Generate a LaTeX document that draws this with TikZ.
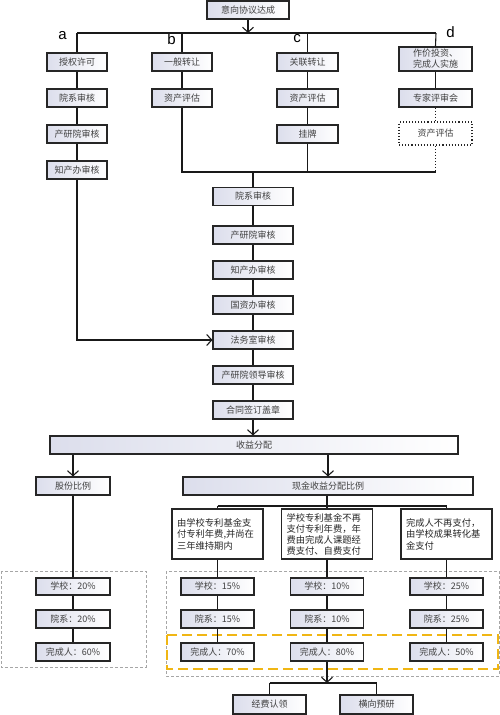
\documentclass[tikz,border=0pt]{standalone}
\usepackage{fontspec}
\setmainfont{Noto Sans CJK SC}
\newfontfamily\latinf{Liberation Sans}
\usetikzlibrary{arrows.meta,calc}
\definecolor{boxL}{RGB}{220,222,236}
\definecolor{ydash}{RGB}{240,182,20}
\tikzset{
  box/.style={draw=black!85, line width=1.1pt, left color=boxL, right color=white,
    minimum height=18pt, inner sep=1pt, font=\fontsize{9}{11}\selectfont, text=black!75},
  tbox/.style={draw=black!85, line width=1.1pt, fill=white, align=left,
    inner xsep=5pt, inner ysep=2pt, minimum height=50pt, text width=81pt,
    font=\fontsize{9.3}{11.5}\selectfont, text=black!85},
  ln/.style={draw=black!90, line width=1.1pt},
  arr/.style={ln, -{Straight Barb[length=5pt,width=11pt,line width=1.1pt]}},
  lbl/.style={font=\latinf\fontsize{15}{15}\selectfont, inner sep=0pt},
}
\begin{document}
\begin{tikzpicture}[x=1pt,y=-1pt]
\useasboundingbox (0,0) rectangle (500,715);
\fill[white] (0,0) rectangle (500,715);
% dashed groups
\draw[gray!70, line width=0.7pt, dash pattern=on 3pt off 2pt] (1,571) rectangle (146,667);
\draw[gray!70, line width=0.7pt, dash pattern=on 3pt off 2pt] (166,571) rectangle (499,676);
\draw[ydash, line width=1.6pt, dash pattern=on 10pt off 5pt] (167,635) rectangle (498,669);

% top
\node[box, minimum width=82pt] (top) at (248,10) {意向协议达成};
\coordinate (ja) at (77,33);
\coordinate (jd) at (436,33);
\node[lbl] (la) at (62.5,35.5) {a};
\node[lbl] (lb) at (171.5,39) {b};
\node[lbl] (lc) at (297,38.5) {c};
\node[lbl] (ld) at (450.5,32.5) {d};

% column a
\node[box, minimum width=60pt] (a1) at (77,62) {授权许可};
\node[box, minimum width=60pt] (a2) at (77,98) {院系审核};
\node[box, minimum width=60pt] (a3) at (77,134) {产研院审核};
\node[box, minimum width=60pt] (a4) at (77,170) {知产办审核};
% column b
\node[box, minimum width=60pt] (b1) at (182,62) {一般转让};
\node[box, minimum width=60pt] (b2) at (182,98) {资产评估};
% column c
\node[box, minimum width=61pt] (c1) at (307.5,62) {关联转让};
\node[box, minimum width=61pt] (c2) at (307.5,98) {资产评估};
\node[box, minimum width=61pt] (c3) at (307.5,134) {挂牌};
% column d
\node[box, minimum width=73pt, minimum height=24pt, align=center] (d1) at (435.5,59) {作价投资、\\完成人实施};
\node[box, minimum width=73pt] (d2) at (435.5,98) {专家评审会};
\node[draw=black!85, line width=1.1pt, dotted, fill=white, minimum width=73pt, minimum height=23pt,
  font=\fontsize{9}{11}\selectfont, text=black!75] (d3) at (435.5,133.5) {资产评估};

\coordinate (jb) at (182,172);
\coordinate (jdd) at (435.5,172);

% main column
\node[box, minimum width=80pt] (m1) at (253,196.5) {院系审核};
\node[box, minimum width=80pt] (m2) at (253,235) {产研院审核};
\node[box, minimum width=80pt] (m3) at (253,270) {知产办审核};
\node[box, minimum width=80pt] (m4) at (253,305) {国资办审核};
\node[box, minimum width=80pt] (m5) at (253,340) {法务室审核};
\node[box, minimum width=80pt] (m6) at (253,375) {产研院领导审核};
\node[box, minimum width=80pt] (m7) at (253,410) {合同签订盖章};

% distribution
\node[box, minimum width=408pt] (profit) at (254,445) {收益分配};
\node[box, minimum width=74pt] (share) at (73,486) {股份比例};
\node[box, minimum width=290pt] (cash) at (328,486) {现金收益分配比例};

\node[tbox] (t1) at (217.5,534) {由学校专利基金支\\付专利年费,并尚在\\三年维持期内};
\node[tbox, font=\fontsize{9.3}{11}\selectfont] (t2) at (327,534) {学校专利基金不再\\支付专利年费，年\\费由完成人课题经\\费支付、自费支付};
\node[tbox] (t3) at (446.5,534) {完成人不再支付，\\由学校成果转化基\\金支付};

\node[box, minimum width=74pt, minimum height=17pt] (s1) at (73,586.5) {学校：20\%};
\node[box, minimum width=74pt] (s2) at (73,619) {院系：20\%};
\node[box, minimum width=74pt] (s3) at (73,652) {完成人：60\%};

\node[box, minimum width=73pt, minimum height=17pt] (p1) at (217.5,586.5) {学校：15\%};
\node[box, minimum width=73pt] (p2) at (217.5,619) {院系：15\%};
\node[box, minimum width=73pt] (p3) at (217.5,652) {完成人：70\%};
\node[box, minimum width=73pt, minimum height=17pt] (q1) at (327,586.5) {学校：10\%};
\node[box, minimum width=73pt] (q2) at (327,619) {院系：10\%};
\node[box, minimum width=73pt] (q3) at (327,652) {完成人：80\%};
\node[box, minimum width=73pt, minimum height=17pt] (r1) at (446.5,586.5) {学校：25\%};
\node[box, minimum width=73pt] (r2) at (446.5,619) {院系：25\%};
\node[box, minimum width=73pt] (r3) at (446.5,652) {完成人：50\%};

\coordinate (jf) at (327,683);
\node[box, minimum width=73pt, minimum height=19pt] (f1) at (269.5,704.5) {经费认领};
\node[box, minimum width=73pt, minimum height=19pt] (f2) at (376.5,704.5) {横向预研};

% connectors top
\draw[arr] (top.south) -- (top.south |- ja);
\draw[ln] (ja) -- (jd);
\draw[ln] (ja) -- (a1.north);
\draw[ln] (b1.north |- ja) -- (b1.north);
\draw[ln] (c1.north |- ja) -- (c1.north);
\draw[ln] (jd) -- (d1.north);
\draw[ln] (a1) -- (a2) -- (a3) -- (a4);
\draw[ln] (b1) -- (b2);
\draw[ln] (c1) -- (c2) -- (c3);
\draw[ln] (d1) -- (d2);
\draw[ln, dotted] (d2) -- (d3);
\draw[ln, dotted] (d3.south) -- (jdd);
\draw[ln] (b2.south) -- (jb) -- (jdd);
\draw[ln] (c3.south) -- (c3.south |- jb);
\draw[ln] (m1.north |- jb) -- (m1.north);
\draw[arr] (a4.south) |- (m5.west);
\draw[ln] (m1) -- (m2) -- (m3) -- (m4) -- (m5) -- (m6) -- (m7);
\draw[arr] (m7.south) -- (m7.south |- profit.north);
\draw[arr] (share.north |- profit.south) -- (share.north);
\draw[arr] (cash.north |- profit.south) -- (cash.north);

\coordinate (jt) at (327,506);
\draw[ln] (cash.south -| t2.north) -- (jt);
\draw[ln] (t1.north |- jt) -- (t3.north |- jt);
\draw[ln] (t1.north |- jt) -- (t1.north);
\draw[ln] (jt) -- (t2.north);
\draw[ln] (t3.north |- jt) -- (t3.north);

\draw[ln] (share) -- (s1) -- (s2) -- (s3);
\draw[ln] (t1) -- (p1) -- (p2) -- (p3);
\draw[ln] (t2) -- (q1) -- (q2) -- (q3);
\draw[ln] (t3) -- (r1) -- (r2) -- (r3);

\draw[arr] (q3.south) -- (jf);
\draw[ln] (f1.north |- jf) -- (f2.north |- jf);
\draw[ln] (f1.north |- jf) -- (f1.north);
\draw[ln] (f2.north |- jf) -- (f2.north);
\end{tikzpicture}
\end{document}
